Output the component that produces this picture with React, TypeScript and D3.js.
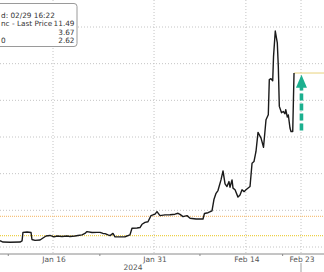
import React from "react";
import * as d3 from "d3";

// x is a trading-day index (0 = Jan 8, 2024), y is price
const tickIndex = [5, 16, 26, 32];
const tickLabels = ["Jan 16", "Jan 31", "Feb 14", "Feb 23"];
const minorTickIndex = [0.13, 10.1, 21.0, 30.0];
const yGrid = [2, 4, 6, 8, 10, 12, 14];

const t = [
  -0.77, -0.44, 0.32, 1.41, 1.63, 1.73, 2.17, 2.61, 2.71, 3.04, 3.59, 3.91, 4.24, 4.67,
  5.11, 5.44, 5.98, 6.52, 6.85, 7.4, 7.72, 8.16, 8.48, 8.7, 9.25, 9.79, 10.12, 10.44,
  10.66, 10.99, 11.21, 11.53, 11.75, 12.29, 12.84, 13.38, 13.6, 14.15, 14.47, 14.69,
  15.02, 15.34, 15.67, 16.11, 16.32, 16.65, 17.19, 17.74, 18.28, 18.61, 18.83, 19.15,
  19.59, 19.92, 20.57, 21.33, 21.49, 21.88, 22.31, 22.53, 22.75, 22.96, 23.29, 23.51,
  23.73, 23.94, 24.16, 24.27, 24.49, 24.6, 24.82, 25.14, 25.36, 25.58, 25.8, 26.01,
  26.45, 26.67, 26.88, 27.1, 27.32, 27.65, 27.92, 28.19, 28.44, 28.55, 28.73, 28.92,
  29.01, 29.2, 29.42, 29.53, 29.64, 29.88, 30.07, 30.26, 30.34, 30.51, 30.62, 30.8,
  30.91, 31.1, 31.24,
];
const price = [
  2.34, 2.27, 2.26, 2.27, 2.33, 2.8, 2.82, 2.79, 2.41, 2.36, 2.38, 2.49, 2.6, 2.63,
  2.55, 2.6, 2.57, 2.6, 2.57, 2.6, 2.63, 2.66, 2.74, 2.84, 2.79, 2.8, 2.8, 2.74,
  2.73, 2.66, 2.62, 2.74, 2.55, 2.55, 2.56, 2.66, 3.02, 3.04, 3.06, 3.24,
  3.34, 3.38, 3.71, 3.79, 3.93, 3.71, 3.75, 3.76, 3.79, 3.84, 3.78, 3.66,
  3.71, 3.57, 3.53, 3.53, 3.83, 3.87, 3.97, 4.61, 4.93, 5.08, 5.66, 6.15,
  5.44, 5.3, 5.57, 5.26, 5.66, 5.21, 5.12, 4.72, 4.84, 5.12, 5.02, 5.12,
  5.3, 6.57, 6.66, 7.21, 8.25, 7.94, 7.44, 8.94, 9.21, 11.13, 11.18, 11.07,
  12.4, 13.78, 13.13, 11.85, 9.67, 9.32, 9.39, 9.27, 9.49, 9.09, 9.2, 8.49,
  8.3, 8.3, 11.49,
];

const lastPrice = 11.49;
const refLevels = [
  { value: 3.67, color: "#f6c27e" },
  { value: 2.62, color: "#ecd048" },
];
const legendRows = [
  { left: "d: 02/29 16:22", right: "" },
  { left: "nc - Last Price", right: "11.49" },
  { left: "", right: "3.67" },
  { left: "0", right: "2.62" },
];
const arrowFrom = 8.35;
const arrowTo = 11.4;
const arrowAt = 32.05;

const W = 324;
const H = 272;

export default function App() {
  const x = d3.scaleLinear().domain([5, 32]).range([53, 301]);
  const y = d3.scaleLinear().domain([2, 14]).range([247, 27]);
  const axisY = 254;
  const data = t.map((v, i) => [v, price[i]] as [number, number]);
  const line = d3
    .line<[number, number]>()
    .x((d) => x(d[0]))
    .y((d) => y(d[1]));
  const lastX = x(t[t.length - 1]);
  const ax = x(arrowAt);
  const headTop = y(arrowTo);
  const headBase = headTop + 13;
  const font = "'DejaVu Sans', Verdana, sans-serif";

  return (
    <svg
      width={W}
      height={H}
      style={{ position: "absolute", left: 0, top: 0, background: "#fff" }}
    >
      <defs>
        <clipPath id="plot">
          <rect x={0} y={0} width={W} height={axisY} />
        </clipPath>
      </defs>
      {/* horizontal grid */}
      {yGrid.map((g) => (
        <line
          key={"h" + g}
          x1={0}
          x2={W}
          y1={y(g)}
          y2={y(g)}
          stroke="#c4c4c4"
          strokeWidth={1}
          strokeDasharray="1,2"
        />
      ))}
      {/* vertical grid */}
      {tickIndex.map((ti) => (
        <line
          key={"v" + ti}
          x1={x(ti)}
          x2={x(ti)}
          y1={0}
          y2={axisY}
          stroke="#c4c4c4"
          strokeWidth={1}
          strokeDasharray="1,2"
        />
      ))}
      {/* reference levels */}
      {refLevels.map((r) => (
        <line
          key={r.value}
          x1={0}
          x2={W}
          y1={y(r.value)}
          y2={y(r.value)}
          stroke={r.color}
          strokeWidth={1.3}
          strokeDasharray="1,1"
        />
      ))}
      {/* last price line */}
      <line
        x1={lastX}
        x2={W}
        y1={y(lastPrice)}
        y2={y(lastPrice)}
        stroke="#e8d27c"
        strokeWidth={1}
      />
      <g clipPath="url(#plot)">
        <path
          d={line(data) || ""}
          fill="none"
          stroke="#1a1a1a"
          strokeWidth={1.4}
          strokeLinejoin="round"
        />
      </g>
      {/* arrow */}
      <line
        x1={ax}
        x2={ax}
        y1={y(arrowFrom)}
        y2={headBase - 1}
        stroke="#1cb08f"
        strokeWidth={3.6}
        strokeDasharray="7,3"
      />
      <path
        d={`M${ax - 5.5},${headBase} L${ax},${headTop} L${ax + 5.5},${headBase} Z`}
        fill="#1cb08f"
      />
      {/* x axis */}
      <line x1={0} x2={W} y1={axisY} y2={axisY} stroke="#8a8a8a" strokeWidth={1} />
      {minorTickIndex.map((m) => (
        <line
          key={"m" + m}
          x1={x(m)}
          x2={x(m)}
          y1={axisY}
          y2={axisY + 2}
          stroke="#8a8a8a"
        />
      ))}
      {tickIndex.map((ti, i) => (
        <text
          key={"l" + ti}
          x={x(ti) + 1}
          y={262}
          textAnchor="middle"
          fontFamily={font}
          fontSize={7.5}
          fill="#555"
        >
          {tickLabels[i]}
        </text>
      ))}
      <text
        x={133}
        y={270}
        textAnchor="middle"
        fontFamily={font}
        fontSize={7.5}
        fill="#555"
      >
        2024
      </text>
      <line
        x1={x(32)}
        x2={x(32)}
        y1={263}
        y2={H}
        stroke="#d0d0d0"
        strokeWidth={2}
      />
      {/* legend */}
      <rect
        x={-20}
        y={3.5}
        width={97}
        height={43}
        rx={3}
        fill="#fff"
        stroke="#9a9a9a"
        strokeWidth={1}
      />
      {legendRows.map((r, i) => (
        <g key={"lg" + i} fontFamily={font} fontSize={7.3} fill="#333">
          <text x={1} y={17.5 + i * 8.5}>
            {r.left}
          </text>
          <text x={74.5} y={17.5 + i * 8.5} textAnchor="end">
            {r.right}
          </text>
        </g>
      ))}
    </svg>
  );
}
